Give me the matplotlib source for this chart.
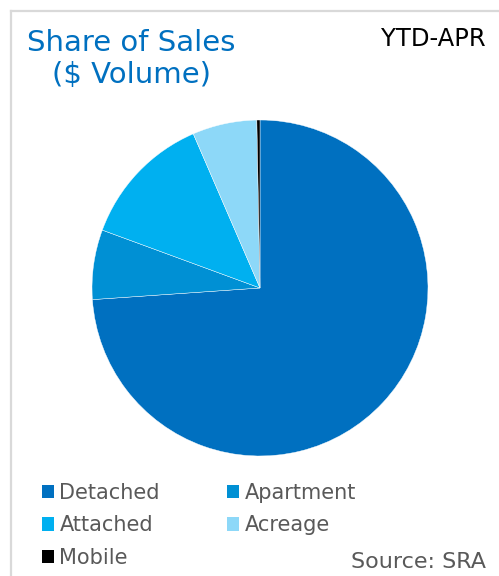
import matplotlib.pyplot as plt
from matplotlib.patches import Patch
from matplotlib.lines import Line2D

categories = ["Detached", "Apartment", "Attached", "Acreage", "Mobile"]
shares = [73.9, 6.7, 12.9, 6.2, 0.3]
colors = ["#0070C0", "#0090D4", "#00B0F0", "#8DD8F8", "#000000"]

W, H = 499, 576
fig = plt.figure(figsize=(W / 100, H / 100), dpi=100)
plt.rcParams["font.family"] = ["DejaVu Sans"]

# frame of the panel (right and bottom sides run off the image)
fig.add_artist(Line2D([11 / W, 11 / W], [0, 1 - 11 / H], color="#d9d9d9", lw=1.6))
fig.add_artist(Line2D([11 / W, 1], [1 - 11 / H, 1 - 11 / H], color="#d9d9d9", lw=1.6))

# pie
cx, cy, r = 260, 288, 168
ax = fig.add_axes([(cx - r) / W, (H - cy - r) / H, 2 * r / W, 2 * r / H])
ax.pie(shares, colors=colors, startangle=90, counterclock=False,
       wedgeprops=dict(edgecolor="white", linewidth=0.3))
ax.set_xlim(-1, 1)
ax.set_ylim(-1, 1)
ax.set_aspect("equal")
ax.axis("off")

fig.text(131 / W, 1 - 29 / H, "Share of Sales\n($ Volume)", ha="center", va="top",
         fontsize=21, color="#0070C0", multialignment="center")
fig.text(486 / W, 1 - 27 / H, "YTD-APR", ha="right", va="top", fontsize=17.5, color="#000000")
fig.text(486 / W, 1 - 562 / H, "Source: SRA", ha="right", va="center", fontsize=16, color="#595959")

# legend, filled row by row
order = [0, 2, 4, 1, 3]
handles = [Patch(facecolor=colors[i], edgecolor="none") for i in order]
labels = [categories[i] for i in order]
leg = fig.legend(handles, labels, ncol=2, loc="upper left",
                 bbox_to_anchor=(23 / W, 1 - 464 / H), frameon=False,
                 fontsize=15, handlelength=0.6, handleheight=0.6,
                 handletextpad=0.25, columnspacing=3.2, labelspacing=0.6,
                 labelcolor="#595959")

fig.savefig("out.png", dpi=100)
